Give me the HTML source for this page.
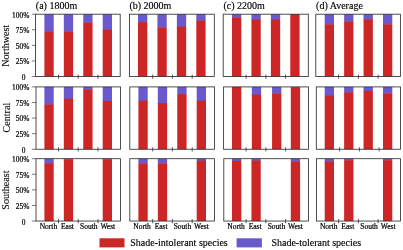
<!DOCTYPE html>
<html><head><meta charset="utf-8"><title>chart</title>
<style>
html,body{margin:0;padding:0;background:#fff;}
body{width:403px;height:250px;overflow:hidden;}
svg{display:block;}
g.tx{opacity:0.999;}
text{font-family:"Liberation Serif",serif;fill:#000;stroke:#000;stroke-width:0.22px;}
.t{font-size:10px;stroke-width:0.15px;}
.r{font-size:10.05px;stroke-width:0.1px;}
.k{font-size:7.35px;}
.x{font-size:7.5px;}
.l{font-size:10px;stroke-width:0.15px;}
</style></head><body>
<svg width="403" height="250" viewBox="0 0 403 250">
<rect x="0" y="0" width="403" height="250" fill="#fff"/>
<g class="tx">
<text class="t" x="35.8" y="9.3">(a) 1800m</text>
<text class="t" x="129.4" y="9.3">(b) 2000m</text>
<text class="t" x="223.4" y="9.3">(c) 2200m</text>
<text class="t" x="316.1" y="9.3">(d) Average</text>
<text class="r" transform="translate(9.2,45.8) rotate(-90)" text-anchor="middle">Northwest</text>
<text class="k" x="29.25" y="17.6" text-anchor="end">100%</text>
<line x1="31.8" y1="14.20" x2="35.5" y2="14.20" stroke="#303030" stroke-width="0.65"/>
<text class="k" x="29.25" y="33.1" text-anchor="end">75%</text>
<line x1="31.8" y1="29.79" x2="35.5" y2="29.79" stroke="#303030" stroke-width="0.65"/>
<text class="k" x="29.25" y="48.7" text-anchor="end">50%</text>
<line x1="31.8" y1="45.38" x2="35.5" y2="45.38" stroke="#303030" stroke-width="0.65"/>
<text class="k" x="29.25" y="64.3" text-anchor="end">25%</text>
<line x1="31.8" y1="60.96" x2="35.5" y2="60.96" stroke="#303030" stroke-width="0.65"/>
<text class="k" x="25.4" y="80.3" text-anchor="end">0</text>
<line x1="31.8" y1="76.55" x2="35.5" y2="76.55" stroke="#303030" stroke-width="0.65"/>
<rect x="44.40" y="14.20" width="9.3" height="17.67" fill="#6959CD"/><rect x="44.40" y="31.47" width="9.3" height="45.08" fill="#CD2626"/>
<rect x="63.83" y="14.20" width="9.3" height="17.67" fill="#6959CD"/><rect x="63.83" y="31.47" width="9.3" height="45.08" fill="#CD2626"/>
<rect x="83.26" y="14.20" width="9.3" height="8.57" fill="#6959CD"/><rect x="83.26" y="22.37" width="9.3" height="54.18" fill="#CD2626"/>
<rect x="102.69" y="14.20" width="9.3" height="15.74" fill="#6959CD"/><rect x="102.69" y="29.54" width="9.3" height="47.01" fill="#CD2626"/>
<rect x="35.5" y="14.20" width="84.7" height="62.35" fill="none" stroke="#303030" stroke-width="0.85"/>
<line x1="58.5" y1="74.55" x2="58.5" y2="78.75" stroke="#303030" stroke-width="0.8"/><line x1="78.2" y1="74.55" x2="78.2" y2="78.75" stroke="#303030" stroke-width="0.8"/><line x1="98.0" y1="74.55" x2="98.0" y2="78.75" stroke="#303030" stroke-width="0.8"/>
<rect x="138.00" y="14.20" width="9.3" height="8.26" fill="#6959CD"/><rect x="138.00" y="22.06" width="9.3" height="54.49" fill="#CD2626"/>
<rect x="157.43" y="14.20" width="9.3" height="13.56" fill="#6959CD"/><rect x="157.43" y="27.36" width="9.3" height="49.19" fill="#CD2626"/>
<rect x="176.86" y="14.20" width="9.3" height="12.75" fill="#6959CD"/><rect x="176.86" y="26.55" width="9.3" height="50.00" fill="#CD2626"/>
<rect x="196.29" y="14.20" width="9.3" height="6.63" fill="#6959CD"/><rect x="196.29" y="20.43" width="9.3" height="56.12" fill="#CD2626"/>
<rect x="129.5" y="14.20" width="84.8" height="62.35" fill="none" stroke="#303030" stroke-width="0.85"/>
<line x1="152.7" y1="74.55" x2="152.7" y2="78.75" stroke="#303030" stroke-width="0.8"/><line x1="172.4" y1="74.55" x2="172.4" y2="78.75" stroke="#303030" stroke-width="0.8"/><line x1="192.2" y1="74.55" x2="192.2" y2="78.75" stroke="#303030" stroke-width="0.8"/>
<rect x="232.00" y="14.20" width="9.3" height="3.58" fill="#6959CD"/><rect x="232.00" y="17.38" width="9.3" height="59.17" fill="#CD2626"/>
<rect x="251.43" y="14.20" width="9.3" height="5.82" fill="#6959CD"/><rect x="251.43" y="19.62" width="9.3" height="56.93" fill="#CD2626"/>
<rect x="270.86" y="14.20" width="9.3" height="5.82" fill="#6959CD"/><rect x="270.86" y="19.62" width="9.3" height="56.93" fill="#CD2626"/>
<rect x="290.29" y="14.20" width="9.3" height="62.35" fill="#CD2626"/>
<rect x="223.2" y="14.20" width="85.1" height="62.35" fill="none" stroke="#303030" stroke-width="0.85"/>
<line x1="246.1" y1="74.55" x2="246.1" y2="78.75" stroke="#303030" stroke-width="0.8"/><line x1="265.9" y1="74.55" x2="265.9" y2="78.75" stroke="#303030" stroke-width="0.8"/><line x1="285.6" y1="74.55" x2="285.6" y2="78.75" stroke="#303030" stroke-width="0.8"/>
<rect x="324.70" y="14.20" width="9.3" height="10.56" fill="#6959CD"/><rect x="324.70" y="24.36" width="9.3" height="52.19" fill="#CD2626"/>
<rect x="344.13" y="14.20" width="9.3" height="7.57" fill="#6959CD"/><rect x="344.13" y="21.37" width="9.3" height="55.18" fill="#CD2626"/>
<rect x="363.56" y="14.20" width="9.3" height="5.39" fill="#6959CD"/><rect x="363.56" y="19.19" width="9.3" height="57.36" fill="#CD2626"/>
<rect x="382.99" y="14.20" width="9.3" height="10.56" fill="#6959CD"/><rect x="382.99" y="24.36" width="9.3" height="52.19" fill="#CD2626"/>
<rect x="315.8" y="14.20" width="84.6" height="62.35" fill="none" stroke="#303030" stroke-width="0.85"/>
<line x1="338.6" y1="74.55" x2="338.6" y2="78.75" stroke="#303030" stroke-width="0.8"/><line x1="358.4" y1="74.55" x2="358.4" y2="78.75" stroke="#303030" stroke-width="0.8"/><line x1="378.1" y1="74.55" x2="378.1" y2="78.75" stroke="#303030" stroke-width="0.8"/>
<text class="r" transform="translate(9.7,117.6) rotate(-90)" text-anchor="middle">Central</text>
<text class="k" x="29.25" y="90.2" text-anchor="end">100%</text>
<line x1="31.8" y1="86.90" x2="36.0" y2="86.90" stroke="#303030" stroke-width="0.65"/>
<text class="k" x="29.25" y="105.8" text-anchor="end">75%</text>
<line x1="31.8" y1="102.49" x2="36.0" y2="102.49" stroke="#303030" stroke-width="0.65"/>
<text class="k" x="29.25" y="121.4" text-anchor="end">50%</text>
<line x1="31.8" y1="118.08" x2="36.0" y2="118.08" stroke="#303030" stroke-width="0.65"/>
<text class="k" x="29.25" y="137.0" text-anchor="end">25%</text>
<line x1="31.8" y1="133.66" x2="36.0" y2="133.66" stroke="#303030" stroke-width="0.65"/>
<text class="k" x="25.4" y="153.1" text-anchor="end">0</text>
<line x1="31.8" y1="149.25" x2="36.0" y2="149.25" stroke="#303030" stroke-width="0.65"/>
<rect x="44.40" y="86.90" width="9.3" height="17.92" fill="#6959CD"/><rect x="44.40" y="104.42" width="9.3" height="44.83" fill="#CD2626"/>
<rect x="63.83" y="86.90" width="9.3" height="12.25" fill="#6959CD"/><rect x="63.83" y="98.75" width="9.3" height="50.50" fill="#CD2626"/>
<rect x="83.26" y="86.90" width="9.3" height="2.89" fill="#6959CD"/><rect x="83.26" y="89.39" width="9.3" height="59.86" fill="#CD2626"/>
<rect x="102.69" y="86.90" width="9.3" height="14.49" fill="#6959CD"/><rect x="102.69" y="100.99" width="9.3" height="48.26" fill="#CD2626"/>
<rect x="36.0" y="86.90" width="84.5" height="62.35" fill="none" stroke="#303030" stroke-width="0.85"/>
<line x1="58.5" y1="147.25" x2="58.5" y2="151.45" stroke="#303030" stroke-width="0.8"/><line x1="78.2" y1="147.25" x2="78.2" y2="151.45" stroke="#303030" stroke-width="0.8"/><line x1="98.0" y1="147.25" x2="98.0" y2="151.45" stroke="#303030" stroke-width="0.8"/>
<rect x="138.40" y="86.90" width="9.3" height="14.24" fill="#6959CD"/><rect x="138.40" y="100.74" width="9.3" height="48.51" fill="#CD2626"/>
<rect x="157.83" y="86.90" width="9.3" height="16.49" fill="#6959CD"/><rect x="157.83" y="102.99" width="9.3" height="46.26" fill="#CD2626"/>
<rect x="177.26" y="86.90" width="9.3" height="7.57" fill="#6959CD"/><rect x="177.26" y="94.07" width="9.3" height="55.18" fill="#CD2626"/>
<rect x="196.69" y="86.90" width="9.3" height="14.24" fill="#6959CD"/><rect x="196.69" y="100.74" width="9.3" height="48.51" fill="#CD2626"/>
<rect x="129.8" y="86.90" width="84.7" height="62.35" fill="none" stroke="#303030" stroke-width="0.85"/>
<line x1="152.7" y1="147.25" x2="152.7" y2="151.45" stroke="#303030" stroke-width="0.8"/><line x1="172.4" y1="147.25" x2="172.4" y2="151.45" stroke="#303030" stroke-width="0.8"/><line x1="192.2" y1="147.25" x2="192.2" y2="151.45" stroke="#303030" stroke-width="0.8"/>
<rect x="232.00" y="86.90" width="9.3" height="62.35" fill="#CD2626"/>
<rect x="251.83" y="86.90" width="9.3" height="8.07" fill="#6959CD"/><rect x="251.83" y="94.57" width="9.3" height="54.68" fill="#CD2626"/>
<rect x="272.06" y="86.90" width="9.3" height="6.82" fill="#6959CD"/><rect x="272.06" y="93.32" width="9.3" height="55.93" fill="#CD2626"/>
<rect x="290.79" y="86.90" width="9.3" height="1.02" fill="#6959CD"/><rect x="290.79" y="87.52" width="9.3" height="61.73" fill="#CD2626"/>
<rect x="223.6" y="86.90" width="84.9" height="62.35" fill="none" stroke="#303030" stroke-width="0.85"/>
<line x1="246.1" y1="147.25" x2="246.1" y2="151.45" stroke="#303030" stroke-width="0.8"/><line x1="265.9" y1="147.25" x2="265.9" y2="151.45" stroke="#303030" stroke-width="0.8"/><line x1="285.6" y1="147.25" x2="285.6" y2="151.45" stroke="#303030" stroke-width="0.8"/>
<rect x="324.70" y="86.90" width="9.3" height="9.07" fill="#6959CD"/><rect x="324.70" y="95.57" width="9.3" height="53.68" fill="#CD2626"/>
<rect x="344.13" y="86.90" width="9.3" height="5.82" fill="#6959CD"/><rect x="344.13" y="92.32" width="9.3" height="56.93" fill="#CD2626"/>
<rect x="363.56" y="86.90" width="9.3" height="4.39" fill="#6959CD"/><rect x="363.56" y="90.89" width="9.3" height="58.36" fill="#CD2626"/>
<rect x="382.99" y="86.90" width="9.3" height="6.82" fill="#6959CD"/><rect x="382.99" y="93.32" width="9.3" height="55.93" fill="#CD2626"/>
<rect x="316.3" y="86.90" width="84.2" height="62.35" fill="none" stroke="#303030" stroke-width="0.85"/>
<line x1="339.6" y1="147.25" x2="339.6" y2="151.45" stroke="#303030" stroke-width="0.8"/><line x1="359.4" y1="147.25" x2="359.4" y2="151.45" stroke="#303030" stroke-width="0.8"/><line x1="379.1" y1="147.25" x2="379.1" y2="151.45" stroke="#303030" stroke-width="0.8"/>
<text class="r" transform="translate(9.2,190.1) rotate(-90)" text-anchor="middle">Southeast</text>
<text class="k" x="29.25" y="162.0" text-anchor="end">100%</text>
<line x1="31.8" y1="158.70" x2="36.0" y2="158.70" stroke="#303030" stroke-width="0.65"/>
<text class="k" x="29.25" y="177.6" text-anchor="end">75%</text>
<line x1="31.8" y1="174.29" x2="36.0" y2="174.29" stroke="#303030" stroke-width="0.65"/>
<text class="k" x="29.25" y="193.2" text-anchor="end">50%</text>
<line x1="31.8" y1="189.88" x2="36.0" y2="189.88" stroke="#303030" stroke-width="0.65"/>
<text class="k" x="29.25" y="208.8" text-anchor="end">25%</text>
<line x1="31.8" y1="205.46" x2="36.0" y2="205.46" stroke="#303030" stroke-width="0.65"/>
<text class="k" x="25.4" y="224.8" text-anchor="end">0</text>
<line x1="31.8" y1="221.05" x2="36.0" y2="221.05" stroke="#303030" stroke-width="0.65"/>
<rect x="44.40" y="158.70" width="9.3" height="4.89" fill="#6959CD"/><rect x="44.40" y="163.19" width="9.3" height="57.86" fill="#CD2626"/>
<rect x="63.83" y="158.70" width="9.3" height="1.02" fill="#6959CD"/><rect x="63.83" y="159.32" width="9.3" height="61.73" fill="#CD2626"/>
<rect x="102.69" y="158.70" width="9.3" height="1.02" fill="#6959CD"/><rect x="102.69" y="159.32" width="9.3" height="61.73" fill="#CD2626"/>
<rect x="36.0" y="158.70" width="84.5" height="62.35" fill="none" stroke="#303030" stroke-width="0.85"/>
<line x1="58.5" y1="219.05" x2="58.5" y2="223.25" stroke="#303030" stroke-width="0.8"/><line x1="78.2" y1="219.05" x2="78.2" y2="223.25" stroke="#303030" stroke-width="0.8"/><line x1="98.0" y1="219.05" x2="98.0" y2="223.25" stroke="#303030" stroke-width="0.8"/>
<text class="x" x="48.4" y="228.5" text-anchor="middle">North</text><text class="x" x="67.5" y="228.5" text-anchor="middle">East</text><text class="x" x="88.8" y="228.5" text-anchor="middle">South</text><text class="x" x="107.8" y="228.5" text-anchor="middle">West</text>
<rect x="138.40" y="158.70" width="9.3" height="5.14" fill="#6959CD"/><rect x="138.40" y="163.44" width="9.3" height="57.61" fill="#CD2626"/>
<rect x="157.83" y="158.70" width="9.3" height="5.14" fill="#6959CD"/><rect x="157.83" y="163.44" width="9.3" height="57.61" fill="#CD2626"/>
<rect x="196.69" y="158.70" width="9.3" height="2.40" fill="#6959CD"/><rect x="196.69" y="160.70" width="9.3" height="60.35" fill="#CD2626"/>
<rect x="129.8" y="158.70" width="84.7" height="62.35" fill="none" stroke="#303030" stroke-width="0.85"/>
<line x1="152.7" y1="219.05" x2="152.7" y2="223.25" stroke="#303030" stroke-width="0.8"/><line x1="172.4" y1="219.05" x2="172.4" y2="223.25" stroke="#303030" stroke-width="0.8"/><line x1="192.2" y1="219.05" x2="192.2" y2="223.25" stroke="#303030" stroke-width="0.8"/>
<text class="x" x="142.0" y="228.5" text-anchor="middle">North</text><text class="x" x="161.1" y="228.5" text-anchor="middle">East</text><text class="x" x="182.4" y="228.5" text-anchor="middle">South</text><text class="x" x="201.4" y="228.5" text-anchor="middle">West</text>
<rect x="232.00" y="158.70" width="9.3" height="2.64" fill="#6959CD"/><rect x="232.00" y="160.94" width="9.3" height="60.11" fill="#CD2626"/>
<rect x="251.43" y="158.70" width="9.3" height="2.27" fill="#6959CD"/><rect x="251.43" y="160.57" width="9.3" height="60.48" fill="#CD2626"/>
<rect x="290.79" y="158.70" width="9.3" height="3.14" fill="#6959CD"/><rect x="290.79" y="161.44" width="9.3" height="59.61" fill="#CD2626"/>
<rect x="223.8" y="158.70" width="84.7" height="62.35" fill="none" stroke="#303030" stroke-width="0.85"/>
<line x1="246.1" y1="219.05" x2="246.1" y2="223.25" stroke="#303030" stroke-width="0.8"/><line x1="265.9" y1="219.05" x2="265.9" y2="223.25" stroke="#303030" stroke-width="0.8"/><line x1="285.6" y1="219.05" x2="285.6" y2="223.25" stroke="#303030" stroke-width="0.8"/>
<text class="x" x="236.0" y="228.5" text-anchor="middle">North</text><text class="x" x="255.1" y="228.5" text-anchor="middle">East</text><text class="x" x="276.4" y="228.5" text-anchor="middle">South</text><text class="x" x="295.4" y="228.5" text-anchor="middle">West</text>
<rect x="324.70" y="158.70" width="9.3" height="3.14" fill="#6959CD"/><rect x="324.70" y="161.44" width="9.3" height="59.61" fill="#CD2626"/>
<rect x="344.13" y="158.70" width="9.3" height="1.90" fill="#6959CD"/><rect x="344.13" y="160.20" width="9.3" height="60.85" fill="#CD2626"/>
<rect x="382.99" y="158.70" width="9.3" height="1.90" fill="#6959CD"/><rect x="382.99" y="160.20" width="9.3" height="60.85" fill="#CD2626"/>
<rect x="316.5" y="158.70" width="84.0" height="62.35" fill="none" stroke="#303030" stroke-width="0.85"/>
<line x1="338.6" y1="219.05" x2="338.6" y2="223.25" stroke="#303030" stroke-width="0.8"/><line x1="358.4" y1="219.05" x2="358.4" y2="223.25" stroke="#303030" stroke-width="0.8"/><line x1="378.1" y1="219.05" x2="378.1" y2="223.25" stroke="#303030" stroke-width="0.8"/>
<text class="x" x="328.7" y="228.5" text-anchor="middle">North</text><text class="x" x="347.8" y="228.5" text-anchor="middle">East</text><text class="x" x="369.1" y="228.5" text-anchor="middle">South</text><text class="x" x="388.1" y="228.5" text-anchor="middle">West</text>
<rect x="99.5" y="238.3" width="25" height="9.1" fill="#CD2626"/>
<text class="l" x="130.3" y="246">Shade-intolerant species</text>
<rect x="236.6" y="238.3" width="25.3" height="9.1" fill="#6959CD"/>
<text class="l" x="271.4" y="246">Shade-tolerant species</text>
</g>
</svg>
</body></html>
